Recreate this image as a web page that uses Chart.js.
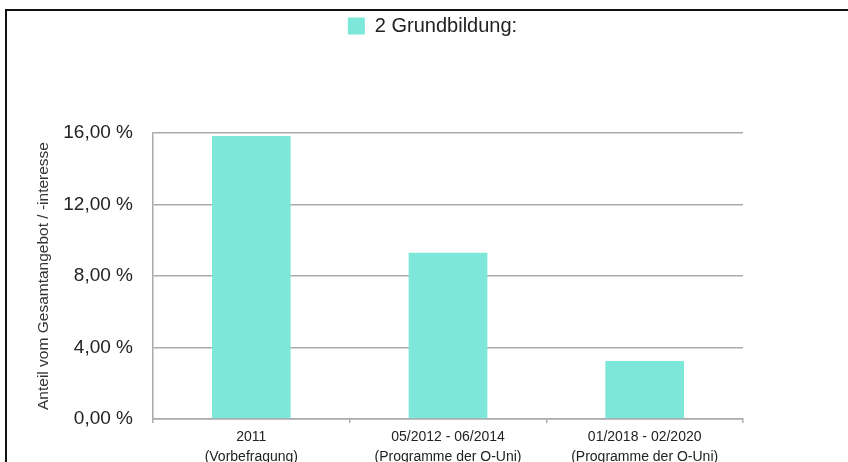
<!DOCTYPE html>
<html>
<head>
<meta charset="utf-8">
<script src="https://cdn.jsdelivr.net/npm/chart.js@4/dist/chart.umd.min.js"></script>
<style>
  body { margin: 0; background: #fff; }
  #wrap { position: relative; width: 848px; height: 462px; overflow: hidden; }
  #rahmen { position: absolute; left: 5px; top: 9px; right: -20px; bottom: -20px;
            border-top: 2px solid #111; border-left: 2px solid #111; pointer-events: none; }
  canvas { position: absolute; left: 0; top: 0; }
</style>
</head>
<body>
<div id="wrap">
  <canvas id="myChart" width="848" height="462"></canvas>
  <div id="rahmen"></div>
</div>
<script>
// Daten
const kategorien = [
    ['2011', '(Vorbefragung)'],
    ['05/2012 - 06/2014', '(Programme der O-Uni)'],
    ['01/2018 - 02/2020', '(Programme der O-Uni)']
];
const grundbildung = [15.83, 9.3, 3.25];
const yTicks = [0, 4, 8, 12, 16];

const schrift = "'Liberation Sans', Arial, Helvetica, sans-serif";

// Legende verschieben (Position wie im Original)
const legendeVerschieben = {
    id: 'legendeVerschieben',
    afterLayout(chart) {
        const lg = chart.legend;
        lg.left += 46; lg.right += 46;
        lg.top -= 87; lg.bottom -= 87;
    }
};

const ctx = document.getElementById('myChart').getContext('2d');
const myChart = new Chart(ctx, {
    type: 'bar',
    data: {
        labels: kategorien,
        datasets: [{
            label: '2 Grundbildung:',
            data: grundbildung,
            backgroundColor: '#7de8d9',
            borderWidth: 0,
            barPercentage: 0.4,
            categoryPercentage: 1
        }]
    },
    options: {
        responsive: false,
        animation: false,
        layout: { padding: { top: 93, left: 30, right: 105, bottom: 0 } },
        plugins: {
            tooltip: { enabled: false },
            legend: {
                position: 'top',
                labels: {
                    boxWidth: 17,
                    boxHeight: 17,
                    padding: 10,
                    color: '#222',
                    font: { family: schrift, size: 20 }
                }
            }
        },
        scales: {
            x: {
                grid: { drawOnChartArea: false, drawTicks: true, tickLength: 4, color: '#aaa', lineWidth: 1.5 },
                border: { color: '#aaa', width: 1.5 },
                ticks: {
                    color: '#222',
                    padding: 4,
                    maxRotation: 0,
                    autoSkip: false,
                    font: { family: schrift, size: 14, lineHeight: 1.45 }
                },
                afterFit(scale) { scale.height = 43; }
            },
            y: {
                min: 0,
                max: 16,
                afterBuildTicks(scale) { scale.ticks = yTicks.map(v => ({ value: v })); },
                grid: { color: '#aaa', lineWidth: 1.5, drawTicks: false },
                border: { color: '#aaa', width: 1.5 },
                ticks: {
                    color: '#222',
                    padding: 20,
                    font: { family: schrift, size: 19 },
                    callback: v => v.toFixed(2).replace('.', ',') + ' %'
                },
                title: {
                    display: true,
                    text: 'Anteil vom Gesamtangebot / -interesse',
                    color: '#333',
                    padding: { top: 4, bottom: 0 },
                    font: { family: schrift, size: 15.5 }
                },
                afterFit(scale) { scale.width = 123; }
            }
        }
    },
    plugins: [legendeVerschieben]
});
</script>
</body>
</html>
